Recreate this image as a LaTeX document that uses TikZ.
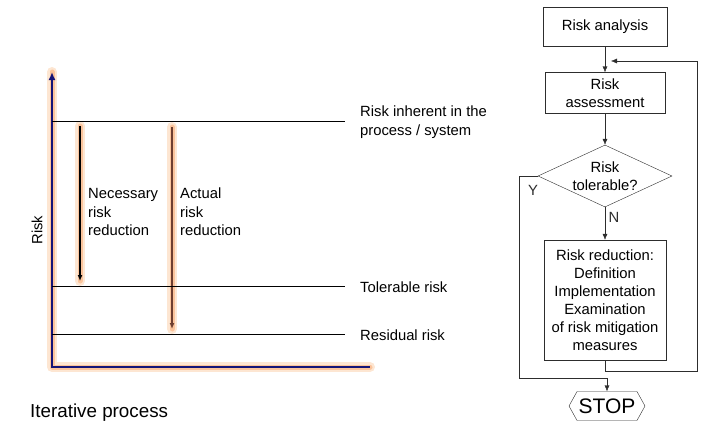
\documentclass[tikz,border=0pt]{standalone}
\usepackage{fontspec}
\setmainfont{Liberation Sans}
\usetikzlibrary{arrows.meta,shapes.geometric,shapes.symbols}

\definecolor{axisblue}{RGB}{20,20,120}
\definecolor{glowout}{RGB}{253,230,210}
\definecolor{glowin}{RGB}{251,196,156}
\definecolor{actbrown}{RGB}{110,62,48}
\definecolor{flowgray}{RGB}{45,45,45}
\newcommand{\rfont}{\fontsize{14.8}{18.5}\selectfont}

\begin{document}
\begin{tikzpicture}[x=1pt,y=-1pt,font=\rfont,
    glow/.style={line width=10pt,glowout,line cap=round,line join=round},
    glowcore/.style={line width=5pt,glowin,line cap=round,line join=round},
    >={Latex[length=6pt,width=5pt]}]

  \useasboundingbox (0,0) rectangle (709,437);

  % risk scale
  \coordinate (orig) at (52,367);
  \coordinate (ytop) at (52,72);
  \coordinate (xend) at (370,367);
  \coordinate (inhL) at (52,121);
  \coordinate (tolL) at (52,286);
  \coordinate (resL) at (52,334);
  \coordinate (necS) at (80,126);
  \coordinate (necE) at (80,281);
  \coordinate (actS) at (172,127);
  \coordinate (actE) at (172,329);

  \begin{scope}
    \draw[glow] (xend) -- (orig) -- (ytop);
    \draw[glow] (necS) -- (necE);
    \draw[glow] (actS) -- (actE);
    \draw[glowcore] (xend) -- (orig) -- (ytop);
    \draw[glowcore] (necS) -- (necE);
    \draw[glowcore] (actS) -- (actE);
  \end{scope}

  \draw[axisblue,line width=2.5pt,-{Latex[length=8pt,width=7pt]}] (xend) -- (orig) -- (ytop);
  \draw[line width=1.3pt,->] (necS) -- (necE);
  \draw[actbrown,line width=2pt,->] (actS) -- (actE);

  \begin{scope}[every node/.style={anchor=west,align=left,inner sep=0pt}]
    \node (inh) at (360,122) {Risk inherent in the\\process / system};
    \node (tol) at (360,287) {Tolerable risk};
    \node (res) at (360,335) {Residual risk};
    \node (nec) at (88,212) {Necessary\\risk\\reduction};
    \node (act) at (180,212) {Actual\\risk\\reduction};
    \node[font=\fontsize{18.8}{22}\selectfont] (iter) at (30,413) {Iterative process};
  \end{scope}
  \node[rotate=90] (riskax) at (37,230) {Risk};

  \begin{scope}[shorten >=15pt]
    \draw (inhL) -- (inhL -| inh.west);
    \draw (tolL) -- (tolL -| tol.west);
    \draw (resL) -- (resL -| res.west);
  \end{scope}

  % flow chart
  \begin{scope}[every node/.style={draw=flowgray,align=center,inner sep=2pt}]
    \node[minimum width=124,minimum height=39] (ana) at (605,27) {Risk analysis};
    \node[minimum width=120,minimum height=41] (ass) at (605,93) {Risk\\assessment};
    \node[diamond,shape aspect=2.16,inner sep=-2pt,minimum width=134,minimum height=62] (tolq) at (605,176) {Risk\\tolerable?};
    \node[minimum width=122,minimum height=120,font=\fontsize{14.8}{18}\selectfont] (redn) at (605,300)
      {Risk reduction:\\Definition\\Implementation\\Examination\\of risk mitigation\\measures};
    \node[signal,signal to=west and east,signal pointer angle=122,minimum width=76,minimum height=29,
      inner sep=1pt,font=\fontsize{21}{24}\selectfont] (stop) at (607,406) {STOP};
  \end{scope}

  \coordinate (ycorner) at (519,378);
  \coordinate (loopr) at (697,371);
  \coordinate (loopin) at (611,61);

  \begin{scope}[flowgray]
    \draw[->] (ana) -- (ass);
    \draw[->] (ass) -- (tolq);
    \draw[->] (tolq) -- node[right,pos=0.3] (nlab) {N} (redn);
    \draw[->] (tolq.west) -| (ycorner) -| (stop.north);
    \draw[->] (redn.south) |- (loopr) |- (loopin);
    \node (ylab) at (533,190) {Y};
  \end{scope}

\end{tikzpicture}
\end{document}
